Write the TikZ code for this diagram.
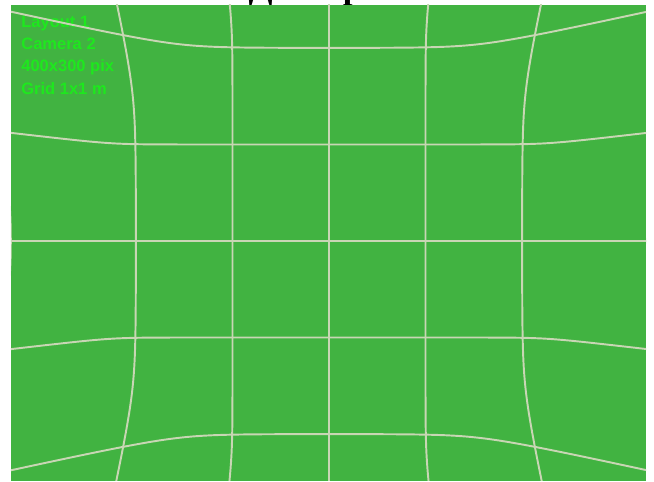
\documentclass[tikz,border=0pt]{standalone}
\usepackage{fontspec}
\setmainfont{Liberation Serif}
\setsansfont{Liberation Sans}
\definecolor{fieldgreen}{RGB}{65,179,65}
\definecolor{gridgray}{RGB}{200,214,180}
\definecolor{textgreen}{RGB}{30,232,30}
\begin{document}
\begin{tikzpicture}[x=0.02cm, y=-0.02cm,
    gridline/.style={gridgray, line width=1.1pt},
    infotext/.style={textgreen, anchor=base west, inner sep=0pt,
                     font=\sffamily\bfseries\fontsize{9.4}{12}\selectfont},
    declare function={sp(\t)=0.6*ln(1+exp(min(\t,4)/0.6))+max(\t-4,0);
                      fd(\u,\v)=1+0.033*sp(\u*\u+\v*\v-6);}]
  \useasboundingbox (0,0) rectangle (654,482);
  % title, cut off by the frame
  \begin{scope}
    \clip (0,0) rectangle (654,5);
    \node[font=\bfseries\fontsize{20}{20}\selectfont, anchor=base, inner sep=0pt]
      (title) at (333,-1.5) {Дисторсия};
  \end{scope}
  \fill[fieldgreen] (11,5) rectangle (646,481);
  \node[infotext] (layout) at (21,28) {Layout 1};
  \node[infotext] (camera) at (21,50) {Camera 2};
  \node[infotext] (size) at (21,72) {400x300 pix};
  \node[infotext] (grid) at (21,95) {Grid 1x1 m};
  \begin{scope}
    \clip (11,5) rectangle (646,481);
    % rows
    \foreach \j in {-2,...,2}
      \draw[gridline] plot[domain=-3.5:3.5, samples=71, smooth]
        ({329+96.5*\x*fd(\x,\j)}, {241+96.5*\j*fd(\x,\j)});
    % columns
    \foreach \i in {-3,...,3}
      \draw[gridline] plot[domain=-3:3, samples=61, smooth]
        ({329+96.5*\i*fd(\i,\x)}, {241+96.5*\x*fd(\i,\x)});
  \end{scope}
\end{tikzpicture}
\end{document}
